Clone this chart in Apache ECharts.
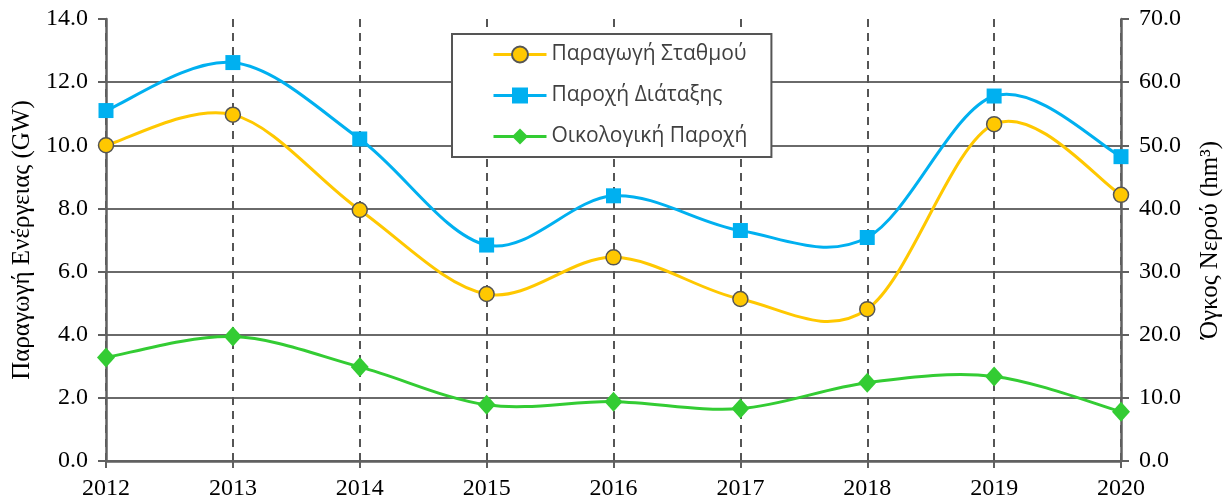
<!DOCTYPE html>
<html>
<head>
<meta charset="utf-8">
<script src="https://cdn.jsdelivr.net/npm/echarts@6/dist/echarts.min.js"></script>
<style>html,body{margin:0;padding:0;background:#fff;}#c{width:1231px;height:502px;}</style>
</head>
<body>
<div id="c"></div>
<script>
const years = ['2012','2013','2014','2015','2016','2017','2018','2019','2020'];
const stationProduction = [10.0, 10.97, 7.95, 5.29, 6.45, 5.13, 4.81, 10.67, 8.43];
const deviceFlow = [55.5, 63.1, 51.0, 34.2, 42.0, 36.5, 35.4, 57.8, 48.2];
const ecologicalFlow = [16.4, 19.7, 14.9, 8.9, 9.4, 8.3, 12.4, 13.4, 7.8];
const leftTicks = { min: 0, max: 14, interval: 2 };
const rightTicks = { min: 0, max: 70, interval: 10 };
const seriesNames = ['Παραγωγή Σταθμού', 'Παροχή Διάταξης', 'Οικολογική Παροχή'];
const leftTitle = 'Παραγωγή Ενέργειας (GW)';
const rightTitle = 'Όγκος Νερού (hm³)';

const colors = ['#FFC800', '#00B0F0', '#33CC33'];
const gray = '#606060';
const serif = '"Liberation Serif", "Times New Roman", serif';
const splitColors = ['#6a6a6a','#6a6a6a','#6a6a6a','#6a6a6a','#6a6a6a','#6a6a6a','#6a6a6a','rgba(0,0,0,0)'];

// Smoothed (Catmull-Rom style) curve drawn through the axis scales via api.coord
function curveSeries(values, yAxisIndex, color, z) {
  const n = values.length;
  return {
    type: 'custom', yAxisIndex: yAxisIndex, z: z, silent: true,
    data: values.map((v, i) => [i, v]),
    renderItem: function (params, api) {
      const i = params.dataIndex;
      if (i >= n - 1) return null;
      const c = k => { const kk = Math.max(0, Math.min(n - 1, k)); return api.coord([kk, values[kk]]); };
      const p0 = c(i - 1), p1 = c(i), p2 = c(i + 1), p3 = c(i + 2);
      return {
        type: 'bezierCurve',
        shape: {
          x1: p1[0], y1: p1[1], x2: p2[0], y2: p2[1],
          cpx1: p1[0] + (p2[0] - p0[0]) / 6, cpy1: p1[1] + (p2[1] - p0[1]) / 6,
          cpx2: p2[0] - (p3[0] - p1[0]) / 6, cpy2: p2[1] - (p3[1] - p1[1]) / 6
        },
        style: { stroke: color, lineWidth: 3, fill: 'none' }
      };
    }
  };
}

const chart = echarts.init(document.getElementById('c'));
chart.setOption({
  animation: false,
  backgroundColor: '#fff',
  grid: { left: 106, right: 109, top: 19, bottom: 41, containLabel: false },
  legend: {
    orient: 'vertical',
    left: 452, top: 34,
    padding: [10, 24, 10, 40],
    itemGap: 20,
    itemWidth: 53, itemHeight: 20,
    borderColor: '#555', borderWidth: 2,
    backgroundColor: '#fff',
    textStyle: { fontFamily: '"Open Sans", sans-serif', fontSize: 21, lineHeight: 20, color: '#404040' },
    data: seriesNames.map((nm, k) => ({ name: nm, lineStyle: { color: colors[k], width: 3, opacity: 1 } }))
  },
  xAxis: {
    type: 'category', data: years, boundaryGap: false,
    axisLine: { lineStyle: { color: gray, width: 2.5 } },
    axisTick: { show: true, length: 7, lineStyle: { color: gray, width: 2 }, alignWithLabel: true },
    axisLabel: { fontFamily: serif, fontSize: 24, color: '#000', margin: 16 },
    splitLine: { show: true, lineStyle: { color: '#555', width: 2, type: [8, 6] } }
  },
  yAxis: [{
    type: 'value', min: leftTicks.min, max: leftTicks.max, interval: leftTicks.interval,
    name: leftTitle, nameLocation: 'middle', nameRotate: 90, nameGap: 68,
    nameTextStyle: { fontFamily: serif, fontSize: 25, color: '#000' },
    axisLine: { show: true, lineStyle: { color: gray, width: 2.5 } },
    axisTick: { show: true, length: 8, lineStyle: { color: gray, width: 2 } },
    axisLabel: { fontFamily: serif, fontSize: 24, color: '#000', margin: 18, formatter: v => v.toFixed(1) },
    splitLine: { show: true, lineStyle: { color: splitColors, width: 2 } }
  }, {
    type: 'value', min: rightTicks.min, max: rightTicks.max, interval: rightTicks.interval,
    position: 'right',
    name: rightTitle, nameLocation: 'middle', nameRotate: 90, nameGap: 77,
    nameTextStyle: { fontFamily: serif, fontSize: 25, color: '#000' },
    axisLine: { show: true, lineStyle: { color: gray, width: 2.5 } },
    axisTick: { show: true, length: 8, lineStyle: { color: gray, width: 2 } },
    axisLabel: { fontFamily: serif, fontSize: 24, color: '#000', margin: 18, formatter: v => v.toFixed(1) },
    splitLine: { show: false }
  }],
  series: [
    curveSeries(stationProduction, 0, colors[0], 4),
    curveSeries(deviceFlow, 1, colors[1], 3),
    curveSeries(ecologicalFlow, 1, colors[2], 2),
  {
    name: seriesNames[0], type: 'line', yAxisIndex: 0, data: stationProduction,
    symbol: 'circle', symbolSize: 15,
    lineStyle: { color: colors[0], width: 3, opacity: 0 },
    itemStyle: { color: colors[0], borderColor: '#555', borderWidth: 1.5 },
    z: 7
  }, {
    name: seriesNames[1], type: 'line', yAxisIndex: 1, data: deviceFlow,
    symbol: 'rect', symbolSize: 15,
    lineStyle: { color: colors[1], width: 3, opacity: 0 },
    itemStyle: { color: colors[1], borderWidth: 0 },
    z: 6
  }, {
    name: seriesNames[2], type: 'line', yAxisIndex: 1, data: ecologicalFlow,
    symbol: 'diamond', symbolSize: [18, 20],
    lineStyle: { color: colors[2], width: 3, opacity: 0 },
    itemStyle: { color: colors[2], borderWidth: 0 },
    z: 5
  }]
});
</script>
</body>
</html>
